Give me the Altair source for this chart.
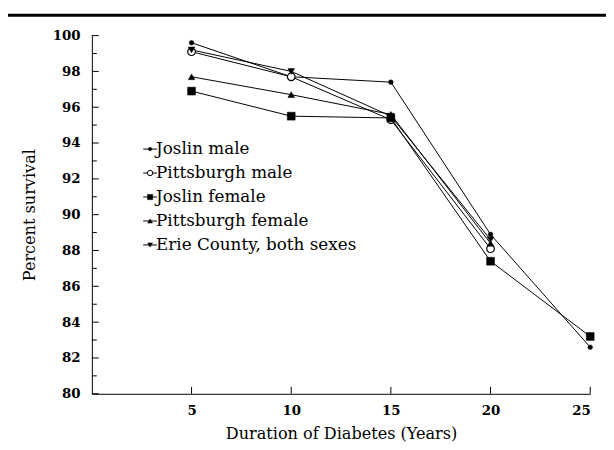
import altair as alt
import pandas as pd

years = [5, 10, 15, 20, 25]
series_names = ["Joslin male", "Pittsburgh male", "Joslin female",
                "Pittsburgh female", "Erie County, both sexes"]
joslin_male = [99.6, 97.7, 97.4, 88.9, 82.6]
pittsburgh_male = [99.1, 97.7, 95.3, 88.1, None]
joslin_female = [96.9, 95.5, 95.4, 87.4, 83.2]
pittsburgh_female = [97.7, 96.7, 95.6, 88.4, None]
erie_county = [99.2, 98.0, 95.5, 88.6, None]
y_ticks = [80, 82, 84, 86, 88, 90, 92, 94, 96, 98, 100]
y_minor = [81, 83, 85, 87, 89, 91, 93, 95, 97, 99]
x_ticks = [5, 10, 15, 20, 25]

all_values = [joslin_male, pittsburgh_male, joslin_female, pittsburgh_female, erie_county]
rows = []
for name, vals in zip(series_names, all_values):
    for yr, v in zip(years, vals):
        if v is not None:
            rows.append({"series": name, "year": yr, "pct": v})
df = pd.DataFrame(rows)

W, H = 505, 363
FONT = "DejaVu Serif"

styles = {
    "Joslin male": dict(shape="circle", filled=True, size=22, lsize=12),
    "Pittsburgh male": dict(shape="circle", filled=False, size=60, lsize=30),
    "Joslin female": dict(shape="square", filled=True, size=64, lsize=28),
    "Pittsburgh female": dict(shape="triangle-up", filled=True, size=45, lsize=24),
    "Erie County, both sexes": dict(shape="triangle-down", filled=True, size=45, lsize=24),
}

xs = alt.Scale(domain=[0, 25], nice=False, zero=False)
ys = alt.Scale(domain=[80, 100], nice=False, zero=False)

xaxis = alt.Axis(values=x_ticks, ticks=False, grid=False, domainColor="black",
                 labelFont=FONT, labelFontSize=13.5, labelFontWeight="bold",
                 labelColor="black", labelPadding=10, labelOverlap=False,
                 title="Duration of Diabetes (Years)", titleFont=FONT,
                 titleFontSize=16.3, titleFontWeight="normal", titleColor="black",
                 titlePadding=9)
yaxis = alt.Axis(values=y_ticks, ticks=False, grid=False, domainColor="black",
                 labelFont=FONT, labelFontSize=13.5, labelFontWeight="bold",
                 labelColor="black", labelPadding=12, labelOverlap=False,
                 title="Percent survival", titleFont=FONT, titleFontSize=16.3,
                 titleFontWeight="normal", titleColor="black", titlePadding=15)

lines = alt.Chart(df).mark_line(color="black", strokeWidth=1).encode(
    x=alt.X("year:Q", scale=xs, axis=xaxis),
    y=alt.Y("pct:Q", scale=ys, axis=yaxis),
    detail="series:N",
)

layers = [lines]
for i, name in enumerate(series_names):
    st = styles[name]
    fill = "black" if st["filled"] else "white"
    pts = alt.Chart(df[df.series == name]).mark_point(
        shape=st["shape"], filled=True, fill=fill, stroke="black",
        strokeWidth=1.2 if not st["filled"] else 0.5, size=st["size"], opacity=1
    ).encode(x=alt.X("year:Q", scale=xs, axis=xaxis), y=alt.Y("pct:Q", scale=ys, axis=yaxis))
    layers.append(pts)

# manual legend
leg_df = pd.DataFrame({"label": series_names})
for i, name in enumerate(series_names):
    st = styles[name]
    fill = "black" if st["filled"] else "white"
    yv = 115 + i * 24.3
    one = alt.Chart(leg_df[leg_df.label == name])
    layers.append(one.mark_rule(color="black", strokeWidth=1).encode(
        x=alt.value(52), x2=alt.value(66), y=alt.value(yv)))
    layers.append(one.mark_point(shape=st["shape"], filled=True, fill=fill, stroke="black",
                                 strokeWidth=1 if not st["filled"] else 0.5,
                                 size=st["lsize"], opacity=1).encode(
        x=alt.value(59), y=alt.value(yv)))
    layers.append(one.mark_text(align="left", baseline="middle", font=FONT, fontSize=17,
                                color="black").encode(
        x=alt.value(65), y=alt.value(yv + 0.5), text="label:N"))

# manual inward ticks
ytick_df = pd.DataFrame({"v": y_ticks})
yminor_df = pd.DataFrame({"v": y_minor})
xtick_df = pd.DataFrame({"v": x_ticks})
layers.append(alt.Chart(ytick_df).mark_rule(color="black", strokeWidth=1).encode(
    y=alt.Y("v:Q", scale=ys, axis=yaxis), x=alt.value(0), x2=alt.value(7)))
layers.append(alt.Chart(yminor_df).mark_rule(color="black", strokeWidth=1).encode(
    y=alt.Y("v:Q", scale=ys, axis=yaxis), x=alt.value(0), x2=alt.value(5)))
layers.append(alt.Chart(xtick_df).mark_rule(color="black", strokeWidth=1).encode(
    x=alt.X("v:Q", scale=xs, axis=xaxis), y=alt.value(H), y2=alt.value(H - 7)))

# thick rule at top of the page
layers.append(alt.Chart(leg_df.head(1)).mark_rule(color="black", strokeWidth=3).encode(
    x=alt.value(-85), x2=alt.value(530), y=alt.value(-20.5)))

chart = alt.layer(*layers).properties(
    width=W, height=H,
    autosize=alt.AutoSizeParams(type="none"),
    padding={"left": 85, "top": 25, "right": 16, "bottom": 52},
).configure_view(stroke=None).configure_axis(domainWidth=1, labelOverlap=False)

chart.save("out.html", embed_options={"renderer": "svg", "actions": False})
